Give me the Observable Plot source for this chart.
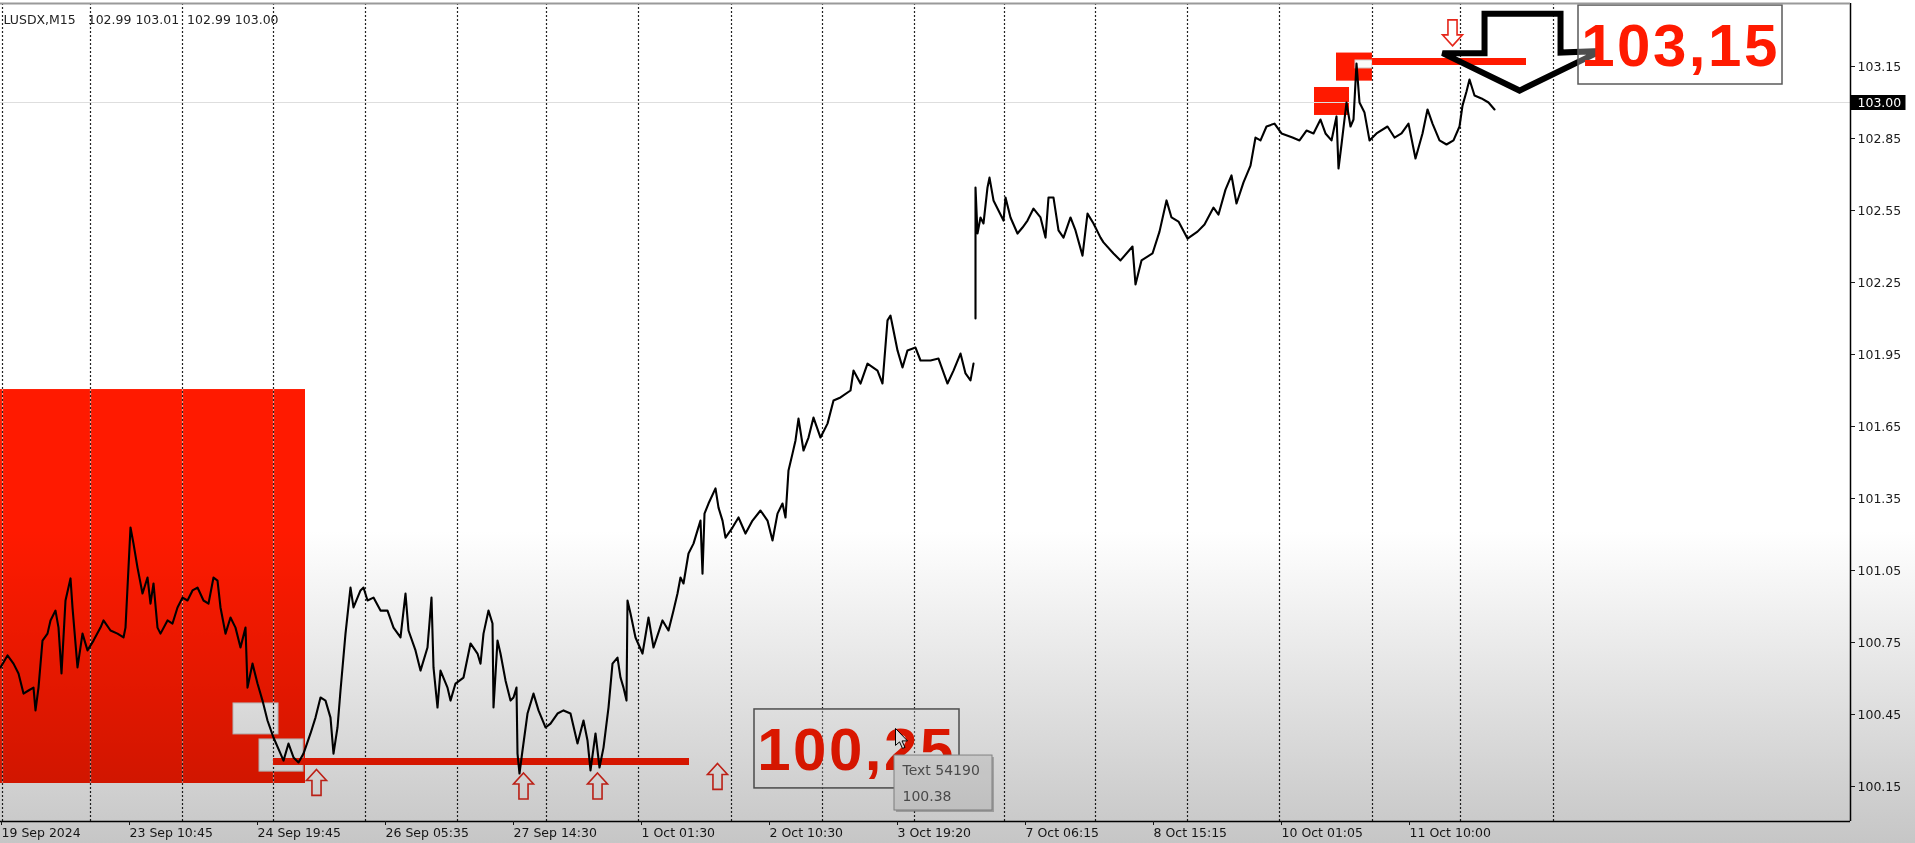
<!DOCTYPE html>
<html><head><meta charset="utf-8">
<script src="https://cdn.jsdelivr.net/npm/d3@7"></script>
<script src="https://cdn.jsdelivr.net/npm/@observablehq/plot@0.6"></script>
<style>
html,body{margin:0;padding:0;background:#fff;width:1915px;height:843px;overflow:hidden;}
#chart{position:relative;width:1915px;height:843px;}
#chart svg{display:block;}
#shade{position:absolute;left:0;top:0;width:1915px;height:843px;pointer-events:none;z-index:5;
  background:linear-gradient(to bottom,#fff 0%,#fff 63%,#c6c6c6 100%);mix-blend-mode:multiply;}
</style></head><body>
<div id="chart"><div id="shade"></div></div>
<script>
// ---------- data (x = M15 bar index, y = price) ----------
const headerText = "LUSDX,M15\u00a0\u00a0\u00a0102.99 103.01\u00a0\u00a0102.99 103.00";
const currentPrice = 103.00;
const dayStarts = [2, 90, 182, 273, 365, 457, 546, 638, 731, 822, 914, 1004, 1095, 1187, 1279, 1372, 1460, 1553];
const xTickBars = [0, 128, 256, 384, 512, 640, 768, 896, 1024, 1152, 1280, 1408];
const xTickLabels = ["19 Sep 2024", "23 Sep 10:45", "24 Sep 19:45", "26 Sep 05:35", "27 Sep 14:30", "1 Oct 01:30",
  "2 Oct 10:30", "3 Oct 19:20", "7 Oct 06:15", "8 Oct 15:15", "10 Oct 01:05", "11 Oct 10:00"];
const yTicks = [100.15, 100.45, 100.75, 101.05, 101.35, 101.65, 101.95, 102.25, 102.55, 102.85, 103.15];

const dxySeries = [[0,100.646],[7,100.696],[13,100.662],[18,100.621],[23,100.537],[28,100.550],[33,100.562],[35,100.467],[38,100.562],[42,100.758],[47,100.787],[50,100.842],[55,100.883],[58,100.812],[61,100.621],[65,100.925],[70,101.017],[72,100.896],[77,100.646],[82,100.787],[87,100.717],[93,100.758],[100,100.812],[103,100.842],[110,100.800],[117,100.787],[123,100.771],[125,100.812],[127,100.979],[130,101.229],[133,101.162],[137,101.062],[142,100.954],[147,101.021],[150,100.912],[153,100.996],[157,100.812],[160,100.787],[167,100.842],[172,100.829],[177,100.896],[182,100.937],[187,100.925],[192,100.967],[197,100.979],[203,100.925],[208,100.912],[213,101.021],[217,101.008],[220,100.896],[225,100.787],[230,100.854],[235,100.812],[240,100.729],[245,100.812],[247,100.562],[252,100.662],[257,100.579],[262,100.508],[267,100.425],[273,100.354],[280,100.287],[283,100.258],[288,100.329],[293,100.271],[298,100.250],[303,100.287],[310,100.371],[315,100.437],[320,100.521],[325,100.508],[330,100.437],[333,100.287],[337,100.396],[340,100.550],[345,100.787],[350,100.979],[353,100.896],[360,100.967],[363,100.979],[367,100.925],[373,100.937],[380,100.883],[387,100.883],[393,100.812],[400,100.771],[405,100.954],[408,100.800],[415,100.717],[420,100.633],[427,100.729],[431,100.937],[433,100.646],[437,100.479],[440,100.633],[447,100.562],[450,100.508],[455,100.579],[463,100.604],[470,100.746],[477,100.704],[480,100.662],[483,100.787],[488,100.883],[492,100.829],[493,100.479],[497,100.758],[500,100.704],[505,100.592],[510,100.508],[513,100.521],[516,100.562],[517,100.287],[519,100.204],[522,100.300],[527,100.454],[533,100.537],[538,100.467],[545,100.396],[550,100.412],[557,100.454],[563,100.467],[570,100.454],[577,100.329],[583,100.425],[587,100.342],[590,100.217],[595,100.371],[599,100.229],[603,100.312],[608,100.479],[612,100.662],[617,100.687],[620,100.604],[623,100.562],[626,100.508],[627,100.925],[630,100.871],[635,100.771],[642,100.704],[648,100.854],[653,100.729],[662,100.842],[668,100.800],[673,100.883],[677,100.954],[680,101.021],[683,100.996],[688,101.121],[693,101.162],[697,101.217],[700,101.258],[702,101.037],[704,101.287],[708,101.329],[715,101.392],[718,101.312],[722,101.258],[725,101.187],[732,101.229],[738,101.271],[745,101.204],[752,101.258],[760,101.300],[767,101.258],[772,101.175],[777,101.287],[782,101.329],[785,101.271],[788,101.467],[792,101.537],[795,101.592],[798,101.683],[803,101.550],[808,101.604],[813,101.687],[820,101.604],[827,101.662],[833,101.758],[840,101.771],[850,101.800],[853,101.883],[860,101.829],[867,101.912],[877,101.883],[882,101.829],[887,102.092],[890,102.112],[893,102.050],[897,101.967],[902,101.896],[907,101.967],[915,101.979],[920,101.925],[930,101.925],[938,101.933],[947,101.829],[953,101.883],[960,101.954],[965,101.871],[970,101.842],[973,101.912],[974,NaN],[975,102.100],[975,102.646],[977,102.454],[980,102.521],[983,102.496],[987,102.646],[989,102.687],[993,102.592],[998,102.550],[1003,102.508],[1005,102.604],[1010,102.521],[1017,102.454],[1022,102.479],[1027,102.508],[1033,102.558],[1040,102.521],[1045,102.437],[1048,102.604],[1053,102.604],[1058,102.467],[1063,102.437],[1070,102.521],[1075,102.467],[1082,102.362],[1087,102.537],[1093,102.496],[1100,102.437],[1103,102.417],[1113,102.371],[1120,102.342],[1132,102.400],[1135,102.242],[1141,102.342],[1152,102.371],[1159,102.462],[1166,102.592],[1171,102.521],[1178,102.504],[1187,102.433],[1197,102.462],[1204,102.492],[1213,102.562],[1218,102.533],[1225,102.637],[1231,102.696],[1236,102.579],[1243,102.667],[1250,102.737],[1255,102.854],[1260,102.842],[1266,102.900],[1274,102.912],[1281,102.871],[1292,102.854],[1299,102.842],[1306,102.883],[1313,102.871],[1320,102.929],[1325,102.871],[1331,102.842],[1336,102.942],[1338,102.725],[1341,102.825],[1346,103.000],[1350,102.900],[1353,102.929],[1356,103.162],[1359,103.000],[1364,102.958],[1369,102.842],[1376,102.871],[1387,102.900],[1394,102.854],[1401,102.871],[1408,102.912],[1415,102.767],[1422,102.871],[1427,102.971],[1432,102.912],[1439,102.842],[1446,102.825],[1453,102.842],[1459,102.900],[1462,102.987],[1466,103.046],[1469,103.096],[1474,103.029],[1481,103.017],[1488,103.000],[1494,102.971]];

const demandZones = [{t1: 0, t2: 305, p1: 100.1625, p2: 101.804}];
const supplyZones = [{t1: 1314, t2: 1349, p1: 102.946, p2: 103.0625}, {t1: 1336, t2: 1372, p1: 103.089, p2: 103.206}];
const whiteBoxes = [{t1: 233, t2: 278, p1: 100.367, p2: 100.496}, {t1: 259, t2: 303, p1: 100.212, p2: 100.346}, {t1: 1355, t2: 1372, p1: 103.142, p2: 103.175}];
const levelLines = [{t1: 273, t2: 689, p: 100.254}, {t1: 1372, t2: 1526, p: 103.171}];
const upArrows = [{t: 316, p: 100.167}, {t: 523, p: 100.152}, {t: 597, p: 100.152}, {t: 717, p: 100.192}];
const downArrows = [{t: 1452, p: 103.290}];
const bigArrow = [{t: 1521, p: 103.210}];
const priceTags = [
  {label: "100,25", t1: 754, t2: 959, p1: 100.142, p2: 100.471, tc: 856, pc: 100.300},
  {label: "103,15", t1: 1578, t2: 1782, p1: 103.075, p2: 103.404, tc: 1680, pc: 103.233}
];
const tooltipBox = [{t1: 894, t2: 992, p1: 100.050, p2: 100.279}];
const tooltipLines = [{t: 902, p: 100.217, text: "Text 54190"}, {t: 902, p: 100.108, text: "100.38"}];
const cursorAt = [{t: 895, p: 100.392}];

// ---------- symbols ----------
const polySymbol = (pts, sx = 1, sy = 1) => ({
  draw(ctx, size) {
    const r = Math.sqrt(size / Math.PI);
    pts.forEach(([x, y], i) => { const X = x * r * sx, Y = y * r * sy; i ? ctx.lineTo(X, Y) : ctx.moveTo(X, Y); });
    ctx.closePath();
  }
});
const arrowPts = [[0,-1],[0.77,-0.15],[0.35,-0.15],[0.35,1],[-0.35,1],[-0.35,-0.15],[-0.77,-0.15]];
const upArrowSymbol = polySymbol(arrowPts, 1, 1);
const downArrowSymbol = polySymbol(arrowPts, 1, -1);
const bigArrowSymbol = polySymbol([[-0.468,-0.487],[0.494,-0.487],[0.494,0.006],[1,-0.013],[-0.025,0.487],[-1,0.013],[-0.468,0.013]]);
const tagSymbol = {draw(ctx, size) { const r = Math.sqrt(size / Math.PI); ctx.rect(-r, -r * 0.27, 2 * r, r * 0.54); }};
const cursorSymbol = polySymbol([[0,0],[0,17/12],[4/12,13.5/12],[7/12,20/12],[9.5/12,19/12],[6.5/12,12.5/12],[1,12.5/12]]);

const xDomain = [0, 1850];
const yDomain = [100.00417, 103.4125];
const red = "#ff1a00";

const plot = Plot.plot({
  width: 1915, height: 843,
  marginLeft: 0, marginRight: 65, marginTop: 3, marginBottom: 22,
  x: {domain: xDomain},
  y: {domain: yDomain},
  style: {fontFamily: "DejaVu Sans, sans-serif", fontSize: "12.5px", background: "transparent", color: "#1a1a1a", overflow: "visible"},
  marks: [
    Plot.rect(demandZones, {x1: "t1", x2: "t2", y1: "p1", y2: "p2", fill: red}),
    Plot.rect(supplyZones, {x1: "t1", x2: "t2", y1: "p1", y2: "p2", fill: red}),
    Plot.rect(whiteBoxes, {x1: "t1", x2: "t2", y1: "p1", y2: "p2", fill: "#fafafa", stroke: "#cfcfcf"}),
    Plot.ruleX(dayStarts, {stroke: "#fff", strokeOpacity: 0.55, strokeWidth: 1.2}),
    Plot.ruleX(dayStarts, {stroke: "#222", strokeDasharray: "2,2", strokeWidth: 1.2}),
    Plot.ruleY([currentPrice], {stroke: "#dedede"}),
    Plot.ruleY(levelLines, {y: "p", x1: "t1", x2: "t2", stroke: red, strokeWidth: 7}),
    Plot.line(dxySeries, {x: d => d[0], y: d => d[1], stroke: "#000", strokeWidth: 2.1}),
    Plot.dot(upArrows, {x: "t", y: "p", symbol: upArrowSymbol, r: 13, stroke: "#e5261a", strokeWidth: 1.6, fill: "none"}),
    Plot.dot(downArrows, {x: "t", y: "p", symbol: downArrowSymbol, r: 13, stroke: "#e5261a", strokeWidth: 1.6, fill: "#fff"}),
    Plot.dot(bigArrow, {x: "t", y: "p", symbol: bigArrowSymbol, r: 79, stroke: "#000", strokeWidth: 6, fill: "none", strokeLinejoin: "miter"}),
    Plot.rect(priceTags, {x1: "t1", x2: "t2", y1: "p1", y2: "p2", fill: "#fff", fillOpacity: 0.3, stroke: "#5a5a5a", strokeWidth: 1.5}),
    Plot.text(priceTags, {x: "tc", y: "pc", text: "label", fill: red, fontSize: 60, fontWeight: "bold", fontFamily: "Liberation Sans, Arial, sans-serif"}),
    Plot.rect(tooltipBox, {x1: "t1", x2: "t2", y1: "p1", y2: "p2", fill: "#888", fillOpacity: 0.5, dx: 2, dy: 2}),
    Plot.rect(tooltipBox, {x1: "t1", x2: "t2", y1: "p1", y2: "p2", fill: "#efefef", stroke: "#9a9a9a"}),
    Plot.text(tooltipLines, {x: "t", y: "p", text: "text", textAnchor: "start", fill: "#5a5a5a", fontSize: 14}),
    Plot.dot(cursorAt, {x: "t", y: "p", symbol: cursorSymbol, r: 12, fill: "#fff", stroke: "#000", strokeWidth: 1}),
    Plot.ruleX([xDomain[1]], {stroke: "#000", strokeWidth: 1.5}),
    Plot.ruleY([yDomain[0]], {stroke: "#000", strokeWidth: 1.5}),
    Plot.ruleY([yDomain[1]], {stroke: "#9a9a9a", strokeWidth: 2}),
    Plot.axisY({anchor: "right", ticks: yTicks, tickFormat: d => d.toFixed(2), tickSize: 4, tickPadding: 3, label: null}),
    Plot.axisX({anchor: "bottom", ticks: xTickBars, tickFormat: d => xTickLabels[xTickBars.indexOf(d)], tickSize: 4, tickPadding: 3, textAnchor: "start", dx: 1, label: null}),
    Plot.dot([currentPrice], {y: d => d, frameAnchor: "right", symbol: tagSymbol, r: 27.5, fill: "#000", dx: 27.5}),
    Plot.text([currentPrice], {y: d => d, frameAnchor: "right", text: d => d.toFixed(2), textAnchor: "start", dx: 7, fill: "#fff"}),
    Plot.text([headerText], {frameAnchor: "top-left", text: d => d, textAnchor: "start", dx: 3, dy: 12, fill: "#222"})
  ]
});

const labels = priceTags.map(d => d.label);
d3.select(plot).selectAll("text").filter(function () { return labels.includes(this.textContent); }).attr("letter-spacing", 2.5);
document.getElementById("chart").insertBefore(plot, document.getElementById("shade"));
</script></body></html>
